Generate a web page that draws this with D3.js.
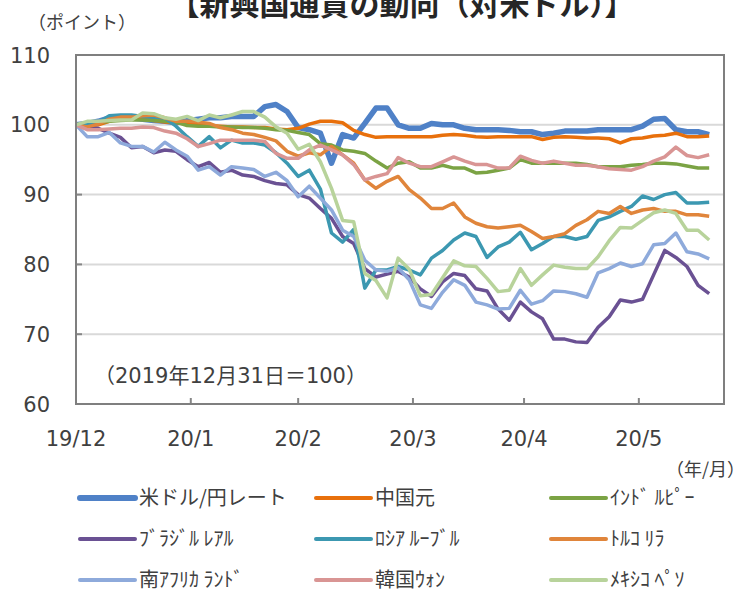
<!DOCTYPE html>
<html>
<head>
<meta charset="utf-8">
<script src="https://cdn.jsdelivr.net/npm/d3@7"></script>
<style>
	body	{margin:0;background:#fff;}
	text	{font-family:"DejaVu Sans",sans-serif;fill:#404040;}
	.jp	{font-family:"Noto Sans CJK JP",sans-serif;}
	.mix	{font-family:"DejaVu Sans","Noto Sans CJK JP",sans-serif;}
</style>
</head>
<body>
<svg id="chart" width="746" height="592"></svg>
<script>
// sample dates (every 3 days, 2019/12/31 = 100)
var dates = ["2019-12-31","2020-01-03","2020-01-06","2020-01-09","2020-01-12","2020-01-15","2020-01-18","2020-01-21","2020-01-24","2020-01-27",
	"2020-01-30","2020-02-02","2020-02-05","2020-02-08","2020-02-11","2020-02-14","2020-02-17","2020-02-20","2020-02-23","2020-02-26",
	"2020-02-29","2020-03-03","2020-03-06","2020-03-09","2020-03-12","2020-03-15","2020-03-18","2020-03-21","2020-03-24","2020-03-27",
	"2020-03-30","2020-04-02","2020-04-05","2020-04-08","2020-04-11","2020-04-14","2020-04-17","2020-04-20","2020-04-23","2020-04-26",
	"2020-04-29","2020-05-02","2020-05-05","2020-05-08","2020-05-11","2020-05-14","2020-05-17","2020-05-20","2020-05-23","2020-05-26",
	"2020-05-29","2020-06-01","2020-06-04","2020-06-07","2020-06-10","2020-06-13","2020-06-16","2020-06-19"];

var usdJpy	= [100,100.2,100.5,101.0,101.1,101.0,100.8,100.6,100.5,100.3,100.6,100.8,101.0,101.0,101.2,101.2,101.2,102.6,102.9,101.9,
	99.6,99.3,98.8,94.5,98.6,98.1,100.2,102.4,102.4,100.0,99.5,99.5,100.2,100.0,100.0,99.5,99.3,99.3,99.3,99.2,
	99.0,99.0,98.6,98.8,99.1,99.1,99.1,99.3,99.3,99.3,99.3,99.8,100.8,100.9,99.3,99.0,99.0,98.6];
var cny		= [100,99.8,100.0,100.5,101.0,100.9,100.8,100.6,100.4,100.3,100.3,100.0,99.9,99.8,99.7,99.7,99.6,99.6,99.4,99.3,
	99.5,100.1,100.5,100.5,100.3,99.2,98.6,98.2,98.3,98.3,98.3,98.3,98.3,98.5,98.6,98.5,98.3,98.2,98.3,98.3,
	98.3,98.3,97.9,98.2,98.3,98.2,98.1,98.1,98.0,97.4,98.0,98.1,98.4,98.5,98.8,98.3,98.3,98.4];
var inr		= [100,100.2,100.3,100.5,100.6,100.7,100.7,100.6,100.5,100.4,99.9,99.8,99.8,99.7,99.7,99.6,99.6,99.5,99.3,99.2,
	98.9,98.6,97.3,97.1,96.4,96.2,95.9,94.8,93.8,94.5,94.7,93.8,93.8,94.2,93.8,93.8,93.1,93.2,93.5,93.8,
	95.0,94.5,94.5,94.5,94.5,94.5,94.3,94.0,94.0,94.0,94.2,94.3,94.5,94.5,94.4,94.1,93.8,93.8];
var brl		= [100,99.5,99.5,98.8,98.2,96.7,96.9,96.0,96.4,96.2,95.0,94.0,94.6,93.2,93.5,92.8,92.6,92.0,91.6,91.4,
	90.0,89.5,88.0,86.6,84.0,83.0,79.4,78.2,78.6,79.0,78.2,76.5,75.4,77.5,78.7,78.4,76.5,76.2,73.6,72.0,
	74.6,73.2,72.2,69.3,69.3,68.9,68.8,71.0,72.5,74.9,74.6,75.0,78.5,82.0,81.0,79.7,77.0,75.8];
var rub		= [100,100.0,100.3,101.3,101.4,101.4,101.2,101.1,101.0,99.8,98.3,96.9,98.3,96.7,97.8,97.4,97.4,97.1,96.0,94.5,
	92.6,93.5,90.8,84.5,83.2,85.0,76.6,79.2,79.2,79.7,79.2,78.5,80.9,82.0,83.5,84.5,84.0,81.0,82.5,83.2,
	84.6,82.1,83.0,84.0,84.0,83.6,84.0,86.3,86.8,87.6,88.3,89.8,89.3,90.0,90.3,88.8,88.8,88.9];
var tryl	= [100,99.7,100.1,100.8,101.1,101.1,101.3,101.4,101.0,100.5,100.5,100.4,100.2,99.6,99.3,98.8,98.6,98.2,97.7,96.2,
	95.5,96.0,95.7,96.9,95.7,94.5,92.1,90.9,91.9,92.6,90.7,89.5,88.0,88.0,88.8,86.8,85.9,85.4,85.2,85.4,
	85.6,84.7,83.7,84.0,84.4,85.6,86.4,87.6,87.3,88.3,87.3,87.8,88.0,87.6,87.6,87.1,87.1,86.9];
var zar		= [100,98.3,98.3,98.9,97.4,96.9,96.9,96.1,97.5,96.4,95.5,93.5,94.0,92.8,94.0,93.8,93.6,92.6,93.2,92.0,
	89.7,91.2,89.5,87.8,84.9,84.0,80.6,79.2,79.0,79.5,77.8,74.2,73.7,76.0,77.8,77.0,74.6,74.2,73.6,73.7,
	76.3,74.3,74.8,76.2,76.1,75.8,75.3,78.8,79.4,80.2,79.7,80.1,82.8,83.0,84.5,81.8,81.5,80.8];
var krw		= [100,99.3,99.3,99.4,99.5,99.5,99.7,99.6,99.1,98.8,98.0,96.9,97.3,97.8,97.8,97.8,97.8,97.6,95.9,95.2,
	95.2,96.4,97.1,96.4,95.7,94.3,92.1,92.6,93.0,95.3,94.5,94.0,94.0,94.7,95.4,94.8,94.3,94.3,93.8,93.8,
	95.5,94.9,94.5,94.8,94.5,94.2,94.2,94.0,93.7,93.6,93.5,94.0,94.8,95.4,96.8,95.6,95.3,95.7];
var mxn		= [100,100.5,100.5,100.6,100.7,100.7,101.7,101.6,101.0,100.8,101.2,100.6,101.4,101.0,101.4,101.9,101.9,101.1,99.7,98.8,
	96.5,97.2,94.7,90.9,86.3,86.1,78.7,77.7,75.2,80.9,79.3,75.5,75.7,78.1,80.5,79.8,79.7,78.0,76.1,76.3,
	79.4,77.0,78.5,79.9,79.6,79.4,79.4,81.1,83.4,85.3,85.2,86.3,87.4,87.8,87.3,84.9,84.9,83.5];

var seriesNames	= ["米ドル/円レート","中国元","ｲﾝﾄﾞ ﾙﾋﾟｰ","ﾌﾞﾗｼﾞﾙ ﾚｱﾙ","ﾛｼｱ ﾙｰﾌﾞﾙ","ﾄﾙｺ ﾘﾗ","南ｱﾌﾘｶ ﾗﾝﾄﾞ","韓国ｳｫﾝ","ﾒｷｼｺ ﾍﾟｿ"];
var seriesValues= [usdJpy, cny, inr, brl, rub, tryl, zar, krw, mxn];
var seriesColors= ["#4f81c7","#e8700c","#7ba344","#6a5193","#3c98b1","#e0853b","#8eaadb","#d99594","#b8d39b"];
var yTicks	= [60,70,80,90,100,110];
var xTickDates	= ["2019-12-31","2020-01-31","2020-02-29","2020-03-31","2020-04-30","2020-05-31"];
var xTickLabels	= ["19/12","20/1","20/2","20/3","20/4","20/5"];

function drawChart() {
	var	svg	= d3.select("#chart"),
		parse	= d3.timeParse("%Y-%m-%d"),
		pLeft	= 76, pRight = 724, pTop = 55, pBottom = 404,
		x	= d3.scaleTime().domain([parse("2019-12-31"), parse("2020-06-23")]).range([pLeft, pRight]),
		y	= d3.scaleLinear().domain([60, 110]).range([pBottom, pTop]);

	// gridlines
	svg.append("g").selectAll("line").data(yTicks.slice(1, -1)).enter().append("line")
		.attr("x1", pLeft).attr("x2", pRight)
		.attr("y1", function(d) { return y(d); }).attr("y2", function(d) { return y(d); })
		.attr("stroke", "#d9d9d9").attr("stroke-width", 2);

	// inner tick marks
	svg.append("g").selectAll("line").data(yTicks).enter().append("line")
		.attr("x1", pLeft).attr("x2", pLeft + 6)
		.attr("y1", function(d) { return y(d); }).attr("y2", function(d) { return y(d); })
		.attr("stroke", "#868686").attr("stroke-width", 2);
	svg.append("g").selectAll("line").data(xTickDates).enter().append("line")
		.attr("x1", function(d) { return x(parse(d)); }).attr("x2", function(d) { return x(parse(d)); })
		.attr("y1", pBottom).attr("y2", pBottom - 6)
		.attr("stroke", "#868686").attr("stroke-width", 2);

	// lines
	var line = d3.line()
		.x(function(d, i) { return x(parse(dates[i])); })
		.y(function(d) { return y(d); });
	svg.append("g").selectAll("path").data(seriesValues).enter().append("path")
		.attr("d", line)
		.attr("fill", "none")
		.attr("stroke", function(d, i) { return seriesColors[i]; })
		.attr("stroke-width", function(d, i) { return i == 0 ? 5.5 : 3.5; })
		.attr("stroke-linejoin", "round");

	// plot box
	svg.append("rect").attr("x", pLeft).attr("y", pTop).attr("width", pRight - pLeft).attr("height", pBottom - pTop)
		.attr("fill", "none").attr("stroke", "#7f7f7f").attr("stroke-width", 2);

	// axis labels
	svg.append("g").selectAll("text").data(yTicks).enter().append("text")
		.attr("x", 50).attr("y", function(d) { return y(d); }).attr("dy", "0.36em")
		.attr("text-anchor", "end").style("font-size", "21px")
		.text(function(d) { return d; });
	svg.append("g").selectAll("text").data(xTickDates).enter().append("text")
		.attr("x", function(d) { return x(parse(d)); }).attr("y", 446)
		.attr("text-anchor", "middle").style("font-size", "21px")
		.text(function(d, i) { return xTickLabels[i]; });

	svg.append("text").attr("class", "jp").attr("x", 402).attr("y", 15).attr("text-anchor", "middle")
		.style("font-size", "30px").style("font-weight", "bold").style("fill", "#262626")
		.text("【新興国通貨の動向（対米ドル）】");
	svg.append("text").attr("class", "jp").attr("x", 28).attr("y", 29).style("font-size", "18px")
		.text("（ポイント）");
	svg.append("text").attr("class", "mix").attr("x", 94).attr("y", 383).style("font-size", "21px")
		.text("（2019年12月31日＝100）");
	svg.append("text").attr("class", "jp").attr("x", 745).attr("y", 476).attr("text-anchor", "end").style("font-size", "18px")
		.text("（年/月）");

	// legend
	var legendX = [80, 316, 551], legendY = [498, 539, 580];
	var legend = svg.append("g").selectAll("g").data(seriesNames).enter().append("g")
		.attr("transform", function(d, i) { return "translate(" + [legendX[i % 3], legendY[Math.floor(i / 3)]] + ")"; });
	legend.append("line").attr("x1", 0).attr("x2", 55).attr("y1", 0).attr("y2", 0)
		.attr("stroke", function(d, i) { return seriesColors[i]; })
		.attr("stroke-width", function(d, i) { return i == 0 ? 6 : 4; })
		.attr("stroke-linecap", "round");
	legend.append("text").attr("class", "jp").attr("x", 59).attr("dy", "0.35em").style("font-size", "20px")
		.text(function(d) { return d; });
}
drawChart();
</script>
</body>
</html>
